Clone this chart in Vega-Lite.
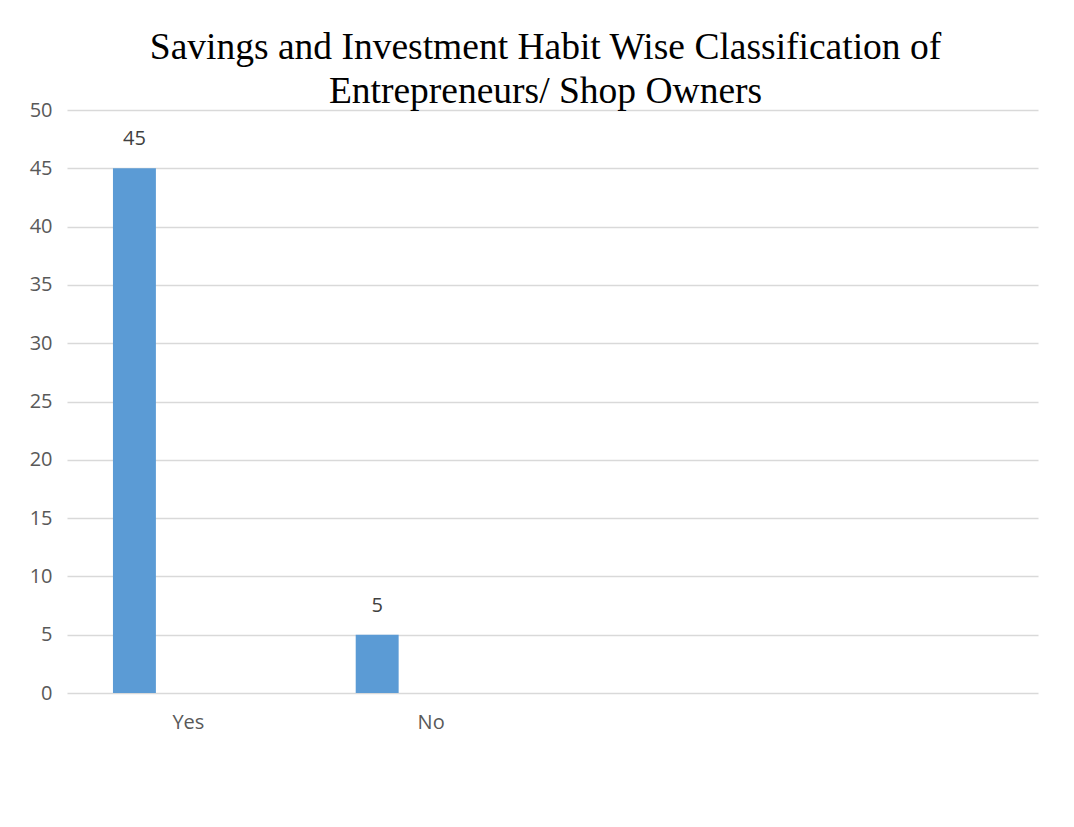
{
  "$schema": "https://vega.github.io/schema/vega-lite/v6.json",
  "autosize": "none",
  "width": 971,
  "height": 583,
  "padding": {"left": 67, "top": 110, "right": 36, "bottom": 134},
  "background": "white",
  "title": {
    "text": ["Savings and Investment Habit Wise Classification of", "Entrepreneurs/ Shop Owners"],
    "font": "Liberation Serif",
    "fontSize": 37.5,
    "fontWeight": "normal",
    "color": "#000000",
    "anchor": "middle",
    "lineHeight": 44,
    "offset": -10,
    "dx": -7
  },
  "data": {
    "values": [
      {"category": "Yes", "series": "s1", "value": 45},
      {"category": "No", "series": "s1", "value": 5}
    ]
  },
  "encoding": {
    "x": {
      "field": "category",
      "type": "nominal",
      "sort": null,
      "scale": {"domain": ["Yes", "No", "c3", "c4"], "paddingInner": 0, "paddingOuter": 0},
      "axis": {
        "title": null,
        "labelAngle": 0,
        "domain": false,
        "ticks": false,
        "labelExpr": "datum.value == 'Yes' || datum.value == 'No' ? datum.value : ''",
        "labelFont": "Open Sans",
        "labelFontSize": 20,
        "labelColor": "#595959",
        "labelPadding": 19
      }
    },
    "xOffset": {
      "field": "series",
      "type": "nominal",
      "scale": {"domain": ["s1", "s2", "s3"], "paddingInner": 0.204, "paddingOuter": 0.852}
    },
    "y": {
      "field": "value",
      "type": "quantitative",
      "scale": {"domain": [0, 50], "nice": false},
      "axis": {
        "title": null,
        "values": [0, 5, 10, 15, 20, 25, 30, 35, 40, 45, 50],
        "domain": false,
        "ticks": false,
        "grid": true,
        "gridColor": "#D9D9D9",
        "gridWidth": 1.5,
        "labelFont": "Open Sans",
        "labelFontSize": 20,
        "labelColor": "#595959",
        "labelPadding": 15
      }
    }
  },
  "layer": [
    {"mark": {"type": "bar", "color": "#5B9BD5"}},
    {
      "mark": {"type": "text", "baseline": "bottom", "dy": -19, "font": "Open Sans", "fontSize": 20, "color": "#404040"},
      "encoding": {"text": {"field": "value", "type": "quantitative"}}
    }
  ],
  "config": {"view": {"stroke": null}}
}
